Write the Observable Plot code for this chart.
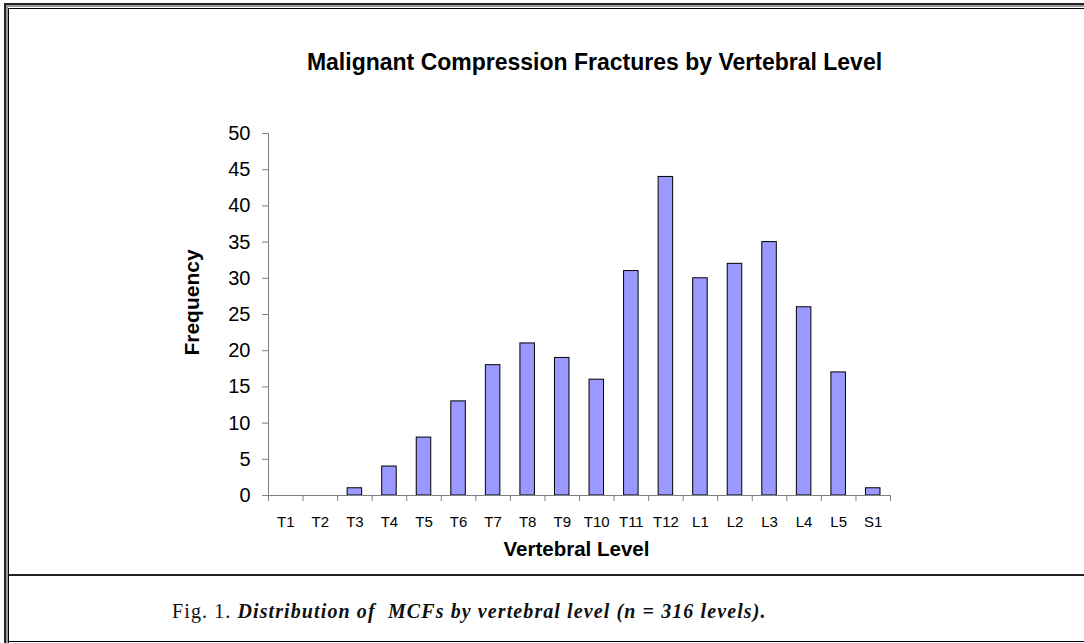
<!DOCTYPE html>
<html>
<head>
<meta charset="utf-8">
<script src="https://cdn.jsdelivr.net/npm/d3@7"></script>
<script src="https://cdn.jsdelivr.net/npm/@observablehq/plot@0.6"></script>
<style>
  html, body { margin: 0; padding: 0; background: #fff; }
  #page { position: relative; width: 1084px; height: 643px; overflow: hidden; background: #fff; }
  .ln { position: absolute; background: #000; }
  #chart { position: absolute; left: 0; top: 0; }
  #caption { position: absolute; left: 172px; top: 600px; font-family: "Liberation Serif", "Times New Roman", serif; font-size: 20px; color: #111; white-space: nowrap; letter-spacing: 1.1px; }
  #caption i { font-weight: bold; font-style: italic; }
</style>
</head>
<body>
<div id="page">
  <div id="chart"></div>
  <!-- frame lines -->
  <div class="ln" style="left:4px; top:3px; width:2px; height:640px; background:#222;"></div>
  <div class="ln" style="left:6px; top:3px; width:2px; height:640px; background:#999;"></div>
  <div class="ln" style="left:8px; top:8px; width:1px; height:635px;"></div>
  <div class="ln" style="left:4px; top:3px; width:1080px; height:2px; background:#222;"></div>
  <div class="ln" style="left:6px; top:5px; width:1078px; height:2px; background:#999;"></div>
  <div class="ln" style="left:8px; top:8px; width:1076px; height:1px;"></div>
  <div class="ln" style="left:9px; top:574px; width:1075px; height:2px; background:#222;"></div>
  <div class="ln" style="left:9px; top:641px; width:1075px; height:1px;"></div>
  <div id="caption">Fig. 1. <i>Distribution of&nbsp; MCFs by vertebral level (n = 316 levels).</i></div>
</div>
<script>
const levels = ["T1","T2","T3","T4","T5","T6","T7","T8","T9","T10","T11","T12","L1","L2","L3","L4","L5","S1"];
const counts = [0,0,1,4,8,13,18,21,19,16,31,44,30,32,35,26,17,1];
const yTicks = [0,5,10,15,20,25,30,35,40,45,50];
const title = "Malignant Compression Fractures by Vertebral Level";
const xLabel = "Vertebral Level";
const yLabel = "Frequency";

const data = levels.map((level, i) => ({level, i, count: counts[i]}));
const boundaries = d3.range(0, levels.length + 1);
const centers = levels.map((_, i) => i + 0.5);

const chart = Plot.plot({
  width: 1084,
  height: 575,
  marginLeft: 268,
  marginRight: 194,
  marginTop: 133,
  marginBottom: 80,
  x: {domain: [0, levels.length], axis: null},
  y: {domain: [0, 50], axis: null},
  style: {fontFamily: "Arial, 'Liberation Sans', sans-serif", background: "transparent", color: "#000"},
  marks: [
    Plot.rectY(data, {
      filter: d => d.count > 0,
      x1: d => d.i + 0.29,
      x2: d => d.i + 0.71,
      y: "count",
      fill: "#9999FF",
      stroke: "#000",
      strokeWidth: 1
    }),
    Plot.ruleX([0], {stroke: "#808080", strokeWidth: 1}),
    Plot.ruleY([0], {stroke: "#808080", strokeWidth: 1}),
    Plot.axisY({ticks: yTicks, tickSize: 6, tickPadding: 12, fontSize: 20, stroke: "#808080", fill: "#000", label: null, tickFormat: d => String(d)}),
    Plot.axisX({ticks: boundaries, tickSize: 6, tickFormat: () => "", stroke: "#808080", label: null}),
    Plot.axisX({ticks: centers, tickSize: 0, tickPadding: 21, fontSize: 15, fill: "#000", label: null, tickFormat: d => levels[Math.floor(d)]}),
    Plot.text([yLabel], {frameAnchor: "left", dx: -76, dy: -12, rotate: -90, fontSize: 21, fontWeight: "bold", textAnchor: "middle", lineAnchor: "middle"}),
    Plot.text([xLabel], {frameAnchor: "bottom", dx: -3, dy: 54, fontSize: 20.5, fontWeight: "bold", textAnchor: "middle", lineAnchor: "middle"}),
    Plot.text([title], {frameAnchor: "top", dx: 15, dy: -71, fontSize: 23, fontWeight: "bold", textAnchor: "middle", lineAnchor: "middle"})
  ]
});
document.getElementById("chart").appendChild(chart);
</script>
</body>
</html>
